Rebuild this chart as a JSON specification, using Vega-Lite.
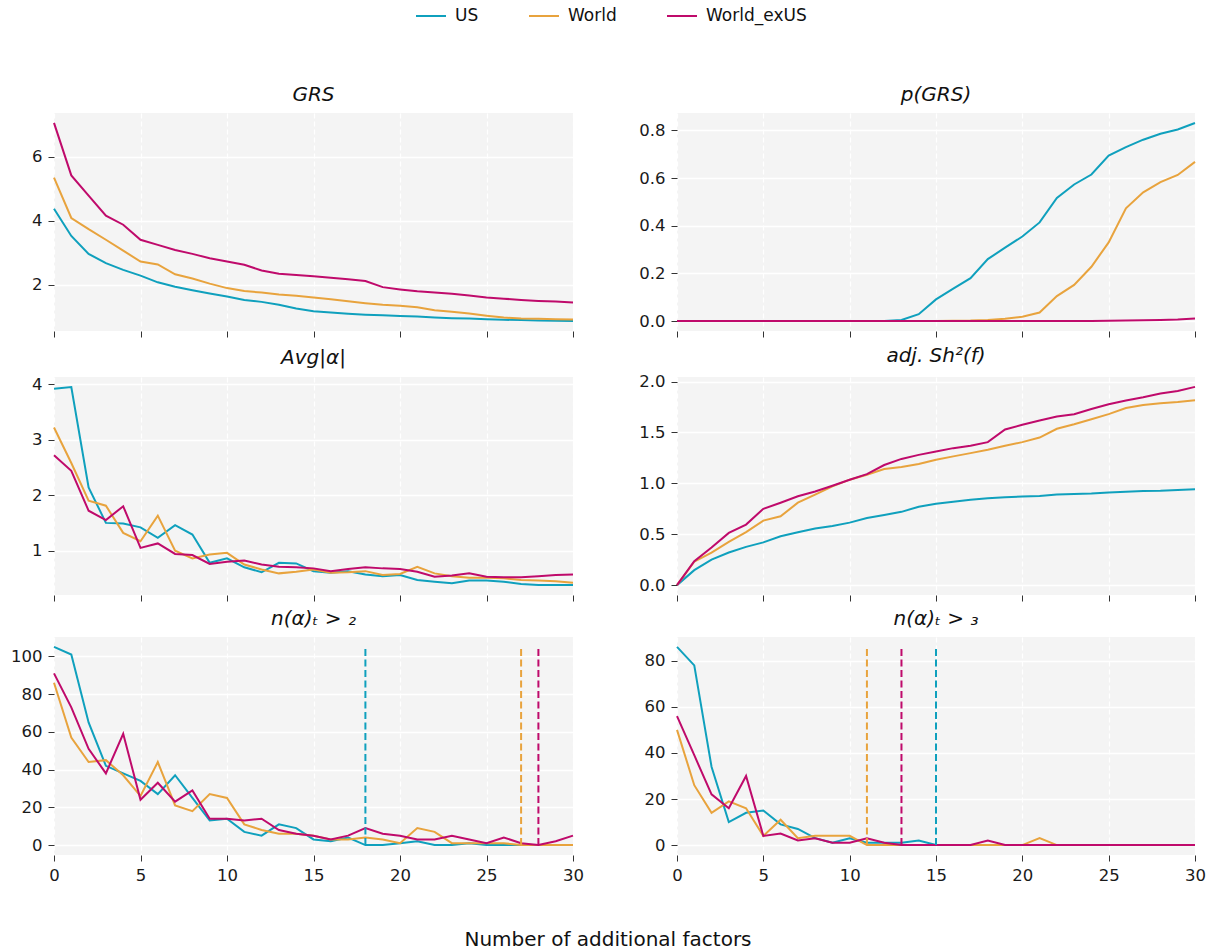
{
  "$schema": "https://vega.github.io/schema/vega-lite/v6.json",
  "background": "white",
  "padding": {"left": 10, "top": 0, "right": 5, "bottom": 5},
  "title": {"text": "Number of additional factors", "orient": "bottom", "anchor": "middle", "fontSize": 20, "fontStyle": "normal", "fontWeight": "normal", "font": "DejaVu Sans", "color": "#111", "offset": 46},
  "config": {
    "view": {"fill": "#f4f4f4", "stroke": null},
    "font": "DejaVu Sans",
    "axis": {"domain": false, "tickColor": "#333", "tickSize": 6, "tickWidth": 1, "labelFont": "DejaVu Sans", "labelFontSize": 16.5, "labelColor": "#1a1a1a", "labelPadding": 6, "labelFlush": false, "gridColor": "#ffffff", "gridWidth": 1.3},
    "title": {"font": "DejaVu Sans", "fontSize": 20, "fontStyle": "italic", "fontWeight": "normal", "color": "#111", "offset": 8},
    "legend": {"labelFont": "DejaVu Sans"}
  },
  "datasets": {
    "grs": [
      {"s":"US","x":0,"y":4.38},{"s":"US","x":1,"y":3.53},{"s":"US","x":2,"y":2.97},{"s":"US","x":3,"y":2.68},{"s":"US","x":4,"y":2.47},{"s":"US","x":5,"y":2.29},{"s":"US","x":6,"y":2.08},{"s":"US","x":7,"y":1.94},{"s":"US","x":8,"y":1.83},{"s":"US","x":9,"y":1.73},{"s":"US","x":10,"y":1.64},{"s":"US","x":11,"y":1.53},{"s":"US","x":12,"y":1.47},{"s":"US","x":13,"y":1.38},{"s":"US","x":14,"y":1.26},{"s":"US","x":15,"y":1.18},{"s":"US","x":16,"y":1.14},{"s":"US","x":17,"y":1.1},{"s":"US","x":18,"y":1.07},{"s":"US","x":19,"y":1.05},{"s":"US","x":20,"y":1.03},{"s":"US","x":21,"y":1.01},{"s":"US","x":22,"y":0.98},{"s":"US","x":23,"y":0.96},{"s":"US","x":24,"y":0.95},{"s":"US","x":25,"y":0.93},{"s":"US","x":26,"y":0.91},{"s":"US","x":27,"y":0.9},{"s":"US","x":28,"y":0.89},{"s":"US","x":29,"y":0.88},{"s":"US","x":30,"y":0.87},
      {"s":"World","x":0,"y":5.35},{"s":"World","x":1,"y":4.09},{"s":"World","x":2,"y":3.74},{"s":"World","x":3,"y":3.41},{"s":"World","x":4,"y":3.07},{"s":"World","x":5,"y":2.73},{"s":"World","x":6,"y":2.64},{"s":"World","x":7,"y":2.33},{"s":"World","x":8,"y":2.2},{"s":"World","x":9,"y":2.04},{"s":"World","x":10,"y":1.9},{"s":"World","x":11,"y":1.81},{"s":"World","x":12,"y":1.76},{"s":"World","x":13,"y":1.7},{"s":"World","x":14,"y":1.66},{"s":"World","x":15,"y":1.61},{"s":"World","x":16,"y":1.55},{"s":"World","x":17,"y":1.49},{"s":"World","x":18,"y":1.43},{"s":"World","x":19,"y":1.38},{"s":"World","x":20,"y":1.35},{"s":"World","x":21,"y":1.3},{"s":"World","x":22,"y":1.21},{"s":"World","x":23,"y":1.16},{"s":"World","x":24,"y":1.11},{"s":"World","x":25,"y":1.04},{"s":"World","x":26,"y":0.98},{"s":"World","x":27,"y":0.95},{"s":"World","x":28,"y":0.94},{"s":"World","x":29,"y":0.93},{"s":"World","x":30,"y":0.92},
      {"s":"World_exUS","x":0,"y":7.06},{"s":"World_exUS","x":1,"y":5.42},{"s":"World_exUS","x":2,"y":4.79},{"s":"World_exUS","x":3,"y":4.16},{"s":"World_exUS","x":4,"y":3.88},{"s":"World_exUS","x":5,"y":3.41},{"s":"World_exUS","x":6,"y":3.25},{"s":"World_exUS","x":7,"y":3.09},{"s":"World_exUS","x":8,"y":2.97},{"s":"World_exUS","x":9,"y":2.83},{"s":"World_exUS","x":10,"y":2.73},{"s":"World_exUS","x":11,"y":2.63},{"s":"World_exUS","x":12,"y":2.45},{"s":"World_exUS","x":13,"y":2.35},{"s":"World_exUS","x":14,"y":2.31},{"s":"World_exUS","x":15,"y":2.27},{"s":"World_exUS","x":16,"y":2.22},{"s":"World_exUS","x":17,"y":2.18},{"s":"World_exUS","x":18,"y":2.12},{"s":"World_exUS","x":19,"y":1.93},{"s":"World_exUS","x":20,"y":1.86},{"s":"World_exUS","x":21,"y":1.8},{"s":"World_exUS","x":22,"y":1.76},{"s":"World_exUS","x":23,"y":1.72},{"s":"World_exUS","x":24,"y":1.67},{"s":"World_exUS","x":25,"y":1.61},{"s":"World_exUS","x":26,"y":1.57},{"s":"World_exUS","x":27,"y":1.53},{"s":"World_exUS","x":28,"y":1.5},{"s":"World_exUS","x":29,"y":1.48},{"s":"World_exUS","x":30,"y":1.45}
    ],
    "pgrs": [
      {"s":"US","x":0,"y":0},{"s":"US","x":1,"y":0},{"s":"US","x":2,"y":0},{"s":"US","x":3,"y":0},{"s":"US","x":4,"y":0},{"s":"US","x":5,"y":0},{"s":"US","x":6,"y":0},{"s":"US","x":7,"y":0},{"s":"US","x":8,"y":0},{"s":"US","x":9,"y":0},{"s":"US","x":10,"y":0},{"s":"US","x":11,"y":0},{"s":"US","x":12,"y":0},{"s":"US","x":13,"y":0.005},{"s":"US","x":14,"y":0.029},{"s":"US","x":15,"y":0.091},{"s":"US","x":16,"y":0.136},{"s":"US","x":17,"y":0.18},{"s":"US","x":18,"y":0.26},{"s":"US","x":19,"y":0.308},{"s":"US","x":20,"y":0.355},{"s":"US","x":21,"y":0.414},{"s":"US","x":22,"y":0.517},{"s":"US","x":23,"y":0.573},{"s":"US","x":24,"y":0.615},{"s":"US","x":25,"y":0.694},{"s":"US","x":26,"y":0.73},{"s":"US","x":27,"y":0.761},{"s":"US","x":28,"y":0.786},{"s":"US","x":29,"y":0.804},{"s":"US","x":30,"y":0.831},
      {"s":"World","x":0,"y":0},{"s":"World","x":1,"y":0},{"s":"World","x":2,"y":0},{"s":"World","x":3,"y":0},{"s":"World","x":4,"y":0},{"s":"World","x":5,"y":0},{"s":"World","x":6,"y":0},{"s":"World","x":7,"y":0},{"s":"World","x":8,"y":0},{"s":"World","x":9,"y":0},{"s":"World","x":10,"y":0},{"s":"World","x":11,"y":0},{"s":"World","x":12,"y":0},{"s":"World","x":13,"y":0},{"s":"World","x":14,"y":0},{"s":"World","x":15,"y":0},{"s":"World","x":16,"y":0.001},{"s":"World","x":17,"y":0.002},{"s":"World","x":18,"y":0.005},{"s":"World","x":19,"y":0.01},{"s":"World","x":20,"y":0.018},{"s":"World","x":21,"y":0.036},{"s":"World","x":22,"y":0.105},{"s":"World","x":23,"y":0.152},{"s":"World","x":24,"y":0.228},{"s":"World","x":25,"y":0.33},{"s":"World","x":26,"y":0.473},{"s":"World","x":27,"y":0.54},{"s":"World","x":28,"y":0.583},{"s":"World","x":29,"y":0.613},{"s":"World","x":30,"y":0.668},
      {"s":"World_exUS","x":0,"y":0},{"s":"World_exUS","x":1,"y":0},{"s":"World_exUS","x":2,"y":0},{"s":"World_exUS","x":3,"y":0},{"s":"World_exUS","x":4,"y":0},{"s":"World_exUS","x":5,"y":0},{"s":"World_exUS","x":6,"y":0},{"s":"World_exUS","x":7,"y":0},{"s":"World_exUS","x":8,"y":0},{"s":"World_exUS","x":9,"y":0},{"s":"World_exUS","x":10,"y":0},{"s":"World_exUS","x":11,"y":0},{"s":"World_exUS","x":12,"y":0},{"s":"World_exUS","x":13,"y":0},{"s":"World_exUS","x":14,"y":0},{"s":"World_exUS","x":15,"y":0},{"s":"World_exUS","x":16,"y":0},{"s":"World_exUS","x":17,"y":0},{"s":"World_exUS","x":18,"y":0},{"s":"World_exUS","x":19,"y":0},{"s":"World_exUS","x":20,"y":0},{"s":"World_exUS","x":21,"y":0},{"s":"World_exUS","x":22,"y":0},{"s":"World_exUS","x":23,"y":0},{"s":"World_exUS","x":24,"y":0},{"s":"World_exUS","x":25,"y":0.001},{"s":"World_exUS","x":26,"y":0.002},{"s":"World_exUS","x":27,"y":0.003},{"s":"World_exUS","x":28,"y":0.005},{"s":"World_exUS","x":29,"y":0.007},{"s":"World_exUS","x":30,"y":0.011}
    ],
    "avg": [
      {"s":"US","x":0,"y":3.92},{"s":"US","x":1,"y":3.95},{"s":"US","x":2,"y":2.14},{"s":"US","x":3,"y":1.5},{"s":"US","x":4,"y":1.49},{"s":"US","x":5,"y":1.42},{"s":"US","x":6,"y":1.23},{"s":"US","x":7,"y":1.46},{"s":"US","x":8,"y":1.29},{"s":"US","x":9,"y":0.78},{"s":"US","x":10,"y":0.86},{"s":"US","x":11,"y":0.7},{"s":"US","x":12,"y":0.61},{"s":"US","x":13,"y":0.78},{"s":"US","x":14,"y":0.77},{"s":"US","x":15,"y":0.63},{"s":"US","x":16,"y":0.6},{"s":"US","x":17,"y":0.63},{"s":"US","x":18,"y":0.57},{"s":"US","x":19,"y":0.54},{"s":"US","x":20,"y":0.56},{"s":"US","x":21,"y":0.47},{"s":"US","x":22,"y":0.44},{"s":"US","x":23,"y":0.41},{"s":"US","x":24,"y":0.46},{"s":"US","x":25,"y":0.46},{"s":"US","x":26,"y":0.44},{"s":"US","x":27,"y":0.4},{"s":"US","x":28,"y":0.38},{"s":"US","x":29,"y":0.38},{"s":"US","x":30,"y":0.38},
      {"s":"World","x":0,"y":3.22},{"s":"World","x":1,"y":2.58},{"s":"World","x":2,"y":1.9},{"s":"World","x":3,"y":1.81},{"s":"World","x":4,"y":1.32},{"s":"World","x":5,"y":1.17},{"s":"World","x":6,"y":1.63},{"s":"World","x":7,"y":1.0},{"s":"World","x":8,"y":0.86},{"s":"World","x":9,"y":0.93},{"s":"World","x":10,"y":0.96},{"s":"World","x":11,"y":0.75},{"s":"World","x":12,"y":0.66},{"s":"World","x":13,"y":0.59},{"s":"World","x":14,"y":0.62},{"s":"World","x":15,"y":0.66},{"s":"World","x":16,"y":0.6},{"s":"World","x":17,"y":0.61},{"s":"World","x":18,"y":0.63},{"s":"World","x":19,"y":0.56},{"s":"World","x":20,"y":0.58},{"s":"World","x":21,"y":0.71},{"s":"World","x":22,"y":0.59},{"s":"World","x":23,"y":0.54},{"s":"World","x":24,"y":0.51},{"s":"World","x":25,"y":0.51},{"s":"World","x":26,"y":0.5},{"s":"World","x":27,"y":0.47},{"s":"World","x":28,"y":0.46},{"s":"World","x":29,"y":0.45},{"s":"World","x":30,"y":0.42},
      {"s":"World_exUS","x":0,"y":2.72},{"s":"World_exUS","x":1,"y":2.44},{"s":"World_exUS","x":2,"y":1.72},{"s":"World_exUS","x":3,"y":1.55},{"s":"World_exUS","x":4,"y":1.8},{"s":"World_exUS","x":5,"y":1.05},{"s":"World_exUS","x":6,"y":1.13},{"s":"World_exUS","x":7,"y":0.94},{"s":"World_exUS","x":8,"y":0.92},{"s":"World_exUS","x":9,"y":0.76},{"s":"World_exUS","x":10,"y":0.8},{"s":"World_exUS","x":11,"y":0.82},{"s":"World_exUS","x":12,"y":0.75},{"s":"World_exUS","x":13,"y":0.71},{"s":"World_exUS","x":14,"y":0.7},{"s":"World_exUS","x":15,"y":0.68},{"s":"World_exUS","x":16,"y":0.63},{"s":"World_exUS","x":17,"y":0.67},{"s":"World_exUS","x":18,"y":0.7},{"s":"World_exUS","x":19,"y":0.68},{"s":"World_exUS","x":20,"y":0.67},{"s":"World_exUS","x":21,"y":0.62},{"s":"World_exUS","x":22,"y":0.53},{"s":"World_exUS","x":23,"y":0.55},{"s":"World_exUS","x":24,"y":0.59},{"s":"World_exUS","x":25,"y":0.53},{"s":"World_exUS","x":26,"y":0.52},{"s":"World_exUS","x":27,"y":0.52},{"s":"World_exUS","x":28,"y":0.54},{"s":"World_exUS","x":29,"y":0.56},{"s":"World_exUS","x":30,"y":0.57}
    ],
    "sh": [
      {"s":"US","x":0,"y":0},{"s":"US","x":1,"y":0.147},{"s":"US","x":2,"y":0.25},{"s":"US","x":3,"y":0.32},{"s":"US","x":4,"y":0.376},{"s":"US","x":5,"y":0.42},{"s":"US","x":6,"y":0.48},{"s":"US","x":7,"y":0.52},{"s":"US","x":8,"y":0.556},{"s":"US","x":9,"y":0.58},{"s":"US","x":10,"y":0.614},{"s":"US","x":11,"y":0.66},{"s":"US","x":12,"y":0.69},{"s":"US","x":13,"y":0.72},{"s":"US","x":14,"y":0.77},{"s":"US","x":15,"y":0.8},{"s":"US","x":16,"y":0.82},{"s":"US","x":17,"y":0.84},{"s":"US","x":18,"y":0.853},{"s":"US","x":19,"y":0.863},{"s":"US","x":20,"y":0.87},{"s":"US","x":21,"y":0.876},{"s":"US","x":22,"y":0.89},{"s":"US","x":23,"y":0.895},{"s":"US","x":24,"y":0.9},{"s":"US","x":25,"y":0.91},{"s":"US","x":26,"y":0.918},{"s":"US","x":27,"y":0.925},{"s":"US","x":28,"y":0.928},{"s":"US","x":29,"y":0.935},{"s":"US","x":30,"y":0.941},
      {"s":"World","x":0,"y":0},{"s":"World","x":1,"y":0.23},{"s":"World","x":2,"y":0.32},{"s":"World","x":3,"y":0.425},{"s":"World","x":4,"y":0.52},{"s":"World","x":5,"y":0.634},{"s":"World","x":6,"y":0.676},{"s":"World","x":7,"y":0.81},{"s":"World","x":8,"y":0.89},{"s":"World","x":9,"y":0.97},{"s":"World","x":10,"y":1.036},{"s":"World","x":11,"y":1.085},{"s":"World","x":12,"y":1.14},{"s":"World","x":13,"y":1.16},{"s":"World","x":14,"y":1.19},{"s":"World","x":15,"y":1.232},{"s":"World","x":16,"y":1.265},{"s":"World","x":17,"y":1.297},{"s":"World","x":18,"y":1.33},{"s":"World","x":19,"y":1.37},{"s":"World","x":20,"y":1.405},{"s":"World","x":21,"y":1.45},{"s":"World","x":22,"y":1.536},{"s":"World","x":23,"y":1.58},{"s":"World","x":24,"y":1.63},{"s":"World","x":25,"y":1.68},{"s":"World","x":26,"y":1.74},{"s":"World","x":27,"y":1.77},{"s":"World","x":28,"y":1.787},{"s":"World","x":29,"y":1.8},{"s":"World","x":30,"y":1.817},
      {"s":"World_exUS","x":0,"y":0},{"s":"World_exUS","x":1,"y":0.235},{"s":"World_exUS","x":2,"y":0.37},{"s":"World_exUS","x":3,"y":0.513},{"s":"World_exUS","x":4,"y":0.595},{"s":"World_exUS","x":5,"y":0.75},{"s":"World_exUS","x":6,"y":0.81},{"s":"World_exUS","x":7,"y":0.873},{"s":"World_exUS","x":8,"y":0.92},{"s":"World_exUS","x":9,"y":0.977},{"s":"World_exUS","x":10,"y":1.036},{"s":"World_exUS","x":11,"y":1.09},{"s":"World_exUS","x":12,"y":1.18},{"s":"World_exUS","x":13,"y":1.24},{"s":"World_exUS","x":14,"y":1.28},{"s":"World_exUS","x":15,"y":1.314},{"s":"World_exUS","x":16,"y":1.346},{"s":"World_exUS","x":17,"y":1.37},{"s":"World_exUS","x":18,"y":1.405},{"s":"World_exUS","x":19,"y":1.53},{"s":"World_exUS","x":20,"y":1.575},{"s":"World_exUS","x":21,"y":1.617},{"s":"World_exUS","x":22,"y":1.657},{"s":"World_exUS","x":23,"y":1.68},{"s":"World_exUS","x":24,"y":1.73},{"s":"World_exUS","x":25,"y":1.778},{"s":"World_exUS","x":26,"y":1.814},{"s":"World_exUS","x":27,"y":1.846},{"s":"World_exUS","x":28,"y":1.882},{"s":"World_exUS","x":29,"y":1.908},{"s":"World_exUS","x":30,"y":1.948}
    ],
    "n2": [
      {"s":"US","x":0,"y":105},{"s":"US","x":1,"y":101},{"s":"US","x":2,"y":65},{"s":"US","x":3,"y":42},{"s":"US","x":4,"y":38},{"s":"US","x":5,"y":34},{"s":"US","x":6,"y":27},{"s":"US","x":7,"y":37},{"s":"US","x":8,"y":25},{"s":"US","x":9,"y":13},{"s":"US","x":10,"y":14},{"s":"US","x":11,"y":7},{"s":"US","x":12,"y":5},{"s":"US","x":13,"y":11},{"s":"US","x":14,"y":9},{"s":"US","x":15,"y":3},{"s":"US","x":16,"y":2},{"s":"US","x":17,"y":4},{"s":"US","x":18,"y":0},{"s":"US","x":19,"y":0},{"s":"US","x":20,"y":1},{"s":"US","x":21,"y":2},{"s":"US","x":22,"y":0},{"s":"US","x":23,"y":0},{"s":"US","x":24,"y":1},{"s":"US","x":25,"y":0},{"s":"US","x":26,"y":0},{"s":"US","x":27,"y":0},{"s":"US","x":28,"y":0},{"s":"US","x":29,"y":0},{"s":"US","x":30,"y":0},
      {"s":"World","x":0,"y":86},{"s":"World","x":1,"y":57},{"s":"World","x":2,"y":44},{"s":"World","x":3,"y":45},{"s":"World","x":4,"y":37},{"s":"World","x":5,"y":26},{"s":"World","x":6,"y":44},{"s":"World","x":7,"y":21},{"s":"World","x":8,"y":18},{"s":"World","x":9,"y":27},{"s":"World","x":10,"y":25},{"s":"World","x":11,"y":11},{"s":"World","x":12,"y":8},{"s":"World","x":13,"y":6},{"s":"World","x":14,"y":6},{"s":"World","x":15,"y":5},{"s":"World","x":16,"y":3},{"s":"World","x":17,"y":3},{"s":"World","x":18,"y":4},{"s":"World","x":19,"y":3},{"s":"World","x":20,"y":1},{"s":"World","x":21,"y":9},{"s":"World","x":22,"y":7},{"s":"World","x":23,"y":1},{"s":"World","x":24,"y":1},{"s":"World","x":25,"y":1},{"s":"World","x":26,"y":1},{"s":"World","x":27,"y":0},{"s":"World","x":28,"y":0},{"s":"World","x":29,"y":0},{"s":"World","x":30,"y":0},
      {"s":"World_exUS","x":0,"y":91},{"s":"World_exUS","x":1,"y":73},{"s":"World_exUS","x":2,"y":51},{"s":"World_exUS","x":3,"y":38},{"s":"World_exUS","x":4,"y":59},{"s":"World_exUS","x":5,"y":24},{"s":"World_exUS","x":6,"y":33},{"s":"World_exUS","x":7,"y":23},{"s":"World_exUS","x":8,"y":29},{"s":"World_exUS","x":9,"y":14},{"s":"World_exUS","x":10,"y":14},{"s":"World_exUS","x":11,"y":13},{"s":"World_exUS","x":12,"y":14},{"s":"World_exUS","x":13,"y":8},{"s":"World_exUS","x":14,"y":6},{"s":"World_exUS","x":15,"y":5},{"s":"World_exUS","x":16,"y":3},{"s":"World_exUS","x":17,"y":5},{"s":"World_exUS","x":18,"y":9},{"s":"World_exUS","x":19,"y":6},{"s":"World_exUS","x":20,"y":5},{"s":"World_exUS","x":21,"y":3},{"s":"World_exUS","x":22,"y":3},{"s":"World_exUS","x":23,"y":5},{"s":"World_exUS","x":24,"y":3},{"s":"World_exUS","x":25,"y":1},{"s":"World_exUS","x":26,"y":4},{"s":"World_exUS","x":27,"y":1},{"s":"World_exUS","x":28,"y":0},{"s":"World_exUS","x":29,"y":2},{"s":"World_exUS","x":30,"y":5}
    ],
    "n3": [
      {"s":"US","x":0,"y":86},{"s":"US","x":1,"y":78},{"s":"US","x":2,"y":34},{"s":"US","x":3,"y":10},{"s":"US","x":4,"y":14},{"s":"US","x":5,"y":15},{"s":"US","x":6,"y":9},{"s":"US","x":7,"y":7},{"s":"US","x":8,"y":3},{"s":"US","x":9,"y":1},{"s":"US","x":10,"y":3},{"s":"US","x":11,"y":1},{"s":"US","x":12,"y":1},{"s":"US","x":13,"y":1},{"s":"US","x":14,"y":2},{"s":"US","x":15,"y":0},{"s":"US","x":16,"y":0},{"s":"US","x":17,"y":0},{"s":"US","x":18,"y":0},{"s":"US","x":19,"y":0},{"s":"US","x":20,"y":0},{"s":"US","x":21,"y":0},{"s":"US","x":22,"y":0},{"s":"US","x":23,"y":0},{"s":"US","x":24,"y":0},{"s":"US","x":25,"y":0},{"s":"US","x":26,"y":0},{"s":"US","x":27,"y":0},{"s":"US","x":28,"y":0},{"s":"US","x":29,"y":0},{"s":"US","x":30,"y":0},
      {"s":"World","x":0,"y":50},{"s":"World","x":1,"y":26},{"s":"World","x":2,"y":14},{"s":"World","x":3,"y":19},{"s":"World","x":4,"y":16},{"s":"World","x":5,"y":4},{"s":"World","x":6,"y":11},{"s":"World","x":7,"y":3},{"s":"World","x":8,"y":4},{"s":"World","x":9,"y":4},{"s":"World","x":10,"y":4},{"s":"World","x":11,"y":0},{"s":"World","x":12,"y":0},{"s":"World","x":13,"y":0},{"s":"World","x":14,"y":0},{"s":"World","x":15,"y":0},{"s":"World","x":16,"y":0},{"s":"World","x":17,"y":0},{"s":"World","x":18,"y":0},{"s":"World","x":19,"y":0},{"s":"World","x":20,"y":0},{"s":"World","x":21,"y":3},{"s":"World","x":22,"y":0},{"s":"World","x":23,"y":0},{"s":"World","x":24,"y":0},{"s":"World","x":25,"y":0},{"s":"World","x":26,"y":0},{"s":"World","x":27,"y":0},{"s":"World","x":28,"y":0},{"s":"World","x":29,"y":0},{"s":"World","x":30,"y":0},
      {"s":"World_exUS","x":0,"y":56},{"s":"World_exUS","x":1,"y":39},{"s":"World_exUS","x":2,"y":22},{"s":"World_exUS","x":3,"y":16},{"s":"World_exUS","x":4,"y":30},{"s":"World_exUS","x":5,"y":4},{"s":"World_exUS","x":6,"y":5},{"s":"World_exUS","x":7,"y":2},{"s":"World_exUS","x":8,"y":3},{"s":"World_exUS","x":9,"y":1},{"s":"World_exUS","x":10,"y":1},{"s":"World_exUS","x":11,"y":3},{"s":"World_exUS","x":12,"y":1},{"s":"World_exUS","x":13,"y":0},{"s":"World_exUS","x":14,"y":0},{"s":"World_exUS","x":15,"y":0},{"s":"World_exUS","x":16,"y":0},{"s":"World_exUS","x":17,"y":0},{"s":"World_exUS","x":18,"y":2},{"s":"World_exUS","x":19,"y":0},{"s":"World_exUS","x":20,"y":0},{"s":"World_exUS","x":21,"y":0},{"s":"World_exUS","x":22,"y":0},{"s":"World_exUS","x":23,"y":0},{"s":"World_exUS","x":24,"y":0},{"s":"World_exUS","x":25,"y":0},{"s":"World_exUS","x":26,"y":0},{"s":"World_exUS","x":27,"y":0},{"s":"World_exUS","x":28,"y":0},{"s":"World_exUS","x":29,"y":0},{"s":"World_exUS","x":30,"y":0}
    ],
    "v2": [
      {"s":"US","x":18,"y0":0,"y1":105},{"s":"World","x":27,"y0":0,"y1":105},{"s":"World_exUS","x":28,"y0":0,"y1":105}
    ],
    "v3": [
      {"s":"US","x":15,"y0":0,"y1":86},{"s":"World","x":11,"y0":0,"y1":86},{"s":"World_exUS","x":13,"y0":0,"y1":86}
    ]
  },
  "columns": 2,
  "spacing": {"row": 7, "column": 54},
  "concat": [
    {
      "title": {"text": "GRS"},
      "width": 519, "height": 218,
      "data": {"name": "grs"},
      "mark": {"type": "line", "strokeWidth": 2},
      "encoding": {
        "x": {"field": "x", "type": "quantitative", "scale": {"domain": [0, 30], "nice": false}, "axis": {"title": null, "values": [0,5,10,15,20,25,30], "labels": false, "gridDash": [5,3]}},
        "y": {"field": "y", "type": "quantitative", "scale": {"domain": [0.56, 7.37], "nice": false, "zero": false}, "axis": {"title": null, "values": [2,4,6]}},
        "color": {"field": "s", "type": "nominal", "scale": {"domain": ["US","World","World_exUS"], "range": ["#0fa0bd","#e8a33d","#bf0a6b"]}, "legend": {"title": null, "orient": "none", "direction": "horizontal", "legendX": 361, "legendY": -113, "symbolType": "stroke", "symbolSize": 900, "symbolStrokeWidth": 2, "labelFontSize": 17, "labelOffset": 8, "columnPadding": 46, "labelColor": "#111"}}
      }
    },
    {
      "title": {"text": "p(GRS)"},
      "width": 518, "height": 218,
      "data": {"name": "pgrs"},
      "mark": {"type": "line", "strokeWidth": 2},
      "encoding": {
        "x": {"field": "x", "type": "quantitative", "scale": {"domain": [0, 30], "nice": false}, "axis": {"title": null, "values": [0,5,10,15,20,25,30], "labels": false, "gridDash": [5,3]}},
        "y": {"field": "y", "type": "quantitative", "scale": {"domain": [-0.0416, 0.873], "nice": false, "zero": false}, "axis": {"title": null, "values": [0,0.2,0.4,0.6,0.8], "format": ".1f"}},
        "color": {"field": "s", "type": "nominal", "scale": {"domain": ["US","World","World_exUS"], "range": ["#0fa0bd","#e8a33d","#bf0a6b"]}, "legend": {"title": null, "orient": "none", "direction": "horizontal", "legendX": 361, "legendY": -113, "symbolType": "stroke", "symbolSize": 900, "symbolStrokeWidth": 2, "labelFontSize": 17, "labelOffset": 8, "columnPadding": 46, "labelColor": "#111"}}
      }
    },
    {
      "title": {"text": "Avg|α|"},
      "width": 519, "height": 218,
      "data": {"name": "avg"},
      "mark": {"type": "line", "strokeWidth": 2},
      "encoding": {
        "x": {"field": "x", "type": "quantitative", "scale": {"domain": [0, 30], "nice": false}, "axis": {"title": null, "values": [0,5,10,15,20,25,30], "labels": false, "gridDash": [5,3]}},
        "y": {"field": "y", "type": "quantitative", "scale": {"domain": [0.2, 4.13], "nice": false, "zero": false}, "axis": {"title": null, "values": [1,2,3,4]}},
        "color": {"field": "s", "type": "nominal", "scale": {"domain": ["US","World","World_exUS"], "range": ["#0fa0bd","#e8a33d","#bf0a6b"]}, "legend": {"title": null, "orient": "none", "direction": "horizontal", "legendX": 361, "legendY": -113, "symbolType": "stroke", "symbolSize": 900, "symbolStrokeWidth": 2, "labelFontSize": 17, "labelOffset": 8, "columnPadding": 46, "labelColor": "#111"}}
      }
    },
    {
      "title": {"text": "adj. Sh²(f)"},
      "width": 518, "height": 218,
      "data": {"name": "sh"},
      "mark": {"type": "line", "strokeWidth": 2},
      "encoding": {
        "x": {"field": "x", "type": "quantitative", "scale": {"domain": [0, 30], "nice": false}, "axis": {"title": null, "values": [0,5,10,15,20,25,30], "labels": false, "gridDash": [5,3]}},
        "y": {"field": "y", "type": "quantitative", "scale": {"domain": [-0.097, 2.045], "nice": false, "zero": false}, "axis": {"title": null, "values": [0,0.5,1,1.5,2], "format": ".1f"}},
        "color": {"field": "s", "type": "nominal", "scale": {"domain": ["US","World","World_exUS"], "range": ["#0fa0bd","#e8a33d","#bf0a6b"]}, "legend": {"title": null, "orient": "none", "direction": "horizontal", "legendX": 361, "legendY": -113, "symbolType": "stroke", "symbolSize": 900, "symbolStrokeWidth": 2, "labelFontSize": 17, "labelOffset": 8, "columnPadding": 46, "labelColor": "#111"}}
      }
    },
    {
      "title": {"text": "n(α)ₜ > ₂"},
      "width": 519, "height": 218,
      "layer": [
        {
          "data": {"name": "n2"},
          "mark": {"type": "line", "strokeWidth": 2},
          "encoding": {
            "x": {"field": "x", "type": "quantitative", "scale": {"domain": [0, 30], "nice": false}, "axis": {"title": null, "values": [0,5,10,15,20,25,30], "gridDash": [5,3]}},
            "y": {"field": "y", "type": "quantitative", "scale": {"domain": [-5.25, 110.25], "nice": false, "zero": false}, "axis": {"title": null, "values": [0,20,40,60,80,100]}},
            "color": {"field": "s", "type": "nominal", "scale": {"domain": ["US","World","World_exUS"], "range": ["#0fa0bd","#e8a33d","#bf0a6b"]}, "legend": {"title": null, "orient": "none", "direction": "horizontal", "legendX": 361, "legendY": -113, "symbolType": "stroke", "symbolSize": 900, "symbolStrokeWidth": 2, "labelFontSize": 17, "labelOffset": 8, "columnPadding": 46, "labelColor": "#111"}}
          }
        },
        {
          "data": {"name": "v2"},
          "mark": {"type": "rule", "strokeWidth": 2, "strokeDash": [7, 3.5]},
          "encoding": {
            "x": {"field": "x", "type": "quantitative"},
            "y": {"field": "y0", "type": "quantitative"},
            "y2": {"field": "y1"},
            "color": {"field": "s", "type": "nominal"}
          }
        }
      ]
    },
    {
      "title": {"text": "n(α)ₜ > ₃"},
      "width": 518, "height": 218,
      "layer": [
        {
          "data": {"name": "n3"},
          "mark": {"type": "line", "strokeWidth": 2},
          "encoding": {
            "x": {"field": "x", "type": "quantitative", "scale": {"domain": [0, 30], "nice": false}, "axis": {"title": null, "values": [0,5,10,15,20,25,30], "gridDash": [5,3]}},
            "y": {"field": "y", "type": "quantitative", "scale": {"domain": [-4.3, 90.3], "nice": false, "zero": false}, "axis": {"title": null, "values": [0,20,40,60,80]}},
            "color": {"field": "s", "type": "nominal", "scale": {"domain": ["US","World","World_exUS"], "range": ["#0fa0bd","#e8a33d","#bf0a6b"]}, "legend": {"title": null, "orient": "none", "direction": "horizontal", "legendX": 361, "legendY": -113, "symbolType": "stroke", "symbolSize": 900, "symbolStrokeWidth": 2, "labelFontSize": 17, "labelOffset": 8, "columnPadding": 46, "labelColor": "#111"}}
          }
        },
        {
          "data": {"name": "v3"},
          "mark": {"type": "rule", "strokeWidth": 2, "strokeDash": [7, 3.5]},
          "encoding": {
            "x": {"field": "x", "type": "quantitative"},
            "y": {"field": "y0", "type": "quantitative"},
            "y2": {"field": "y1"},
            "color": {"field": "s", "type": "nominal"}
          }
        }
      ]
    }
  ]
}
